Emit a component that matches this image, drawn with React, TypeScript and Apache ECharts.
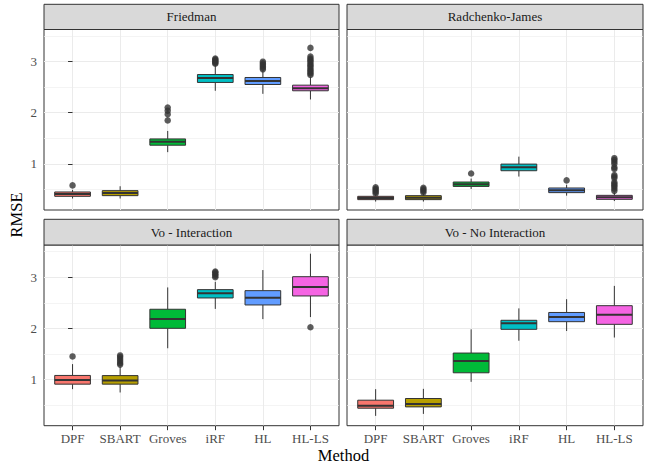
import React, { useEffect, useRef } from "react";
import * as echarts from "echarts";

const METHODS = ["DPF", "SBART", "Groves", "iRF", "HL", "HL-LS"];
const PANELS = ["Friedman", "Radchenko-James", "Vo - Interaction", "Vo - No Interaction"];
const COLORS = ["#F8766D", "#B79F00", "#00BA38", "#00BFC4", "#619CFF", "#F564E3"];
const Y_TICKS = [1, 2, 3];
const Y_MINOR = [0.5, 1.5, 2.5, 3.5];
const Y_MIN = 0.095;
const Y_MAX = 3.63;

// [lower whisker, Q1, median, Q3, upper whisker]
const friedmanStats = [
  [0.32, 0.363, 0.41, 0.448, 0.49],
  [0.32, 0.376, 0.43, 0.474, 0.56],
  [1.228, 1.364, 1.43, 1.487, 1.643],
  [2.43, 2.593, 2.68, 2.748, 2.93],
  [2.37, 2.553, 2.62, 2.69, 2.82],
  [2.26, 2.43, 2.48, 2.54, 2.7],
];
const friedmanOutliers = [
  [0.577],
  [],
  [1.85, 1.97, 2.04, 2.1],
  [2.96, 2.98, 3.0, 3.02, 3.04, 3.06],
  [2.85, 2.88, 2.91, 2.94, 2.97, 3.0],
  [2.74, 2.77, 2.8, 2.83, 2.86, 2.9, 2.93, 2.96, 3.0, 3.03, 3.06, 3.1, 3.27],
];

const radchenkoStats = [
  [0.26, 0.298, 0.33, 0.363, 0.4],
  [0.26, 0.298, 0.337, 0.376, 0.41],
  [0.507, 0.557, 0.6, 0.643, 0.71],
  [0.75, 0.864, 0.93, 0.994, 1.14],
  [0.376, 0.435, 0.48, 0.526, 0.59],
  [0.27, 0.304, 0.343, 0.382, 0.44],
];
const radchenkoOutliers = [
  [0.42, 0.45, 0.48, 0.51, 0.54],
  [0.44, 0.47, 0.5, 0.53],
  [0.81],
  [],
  [0.675],
  [0.47, 0.51, 0.55, 0.58, 0.61, 0.64, 0.72, 0.75, 0.78, 0.9, 0.93, 1.0, 1.04, 1.08, 1.11],
];

const voIntStats = [
  [0.81, 0.908, 0.99, 1.078, 1.3],
  [0.745, 0.908, 0.98, 1.075, 1.25],
  [1.61, 2.0, 2.18, 2.373, 2.8],
  [2.38, 2.594, 2.686, 2.757, 2.91],
  [2.18, 2.457, 2.6, 2.737, 3.14],
  [2.22, 2.633, 2.81, 3.01, 3.46],
];
const voIntOutliers = [
  [1.45],
  [1.29, 1.32, 1.36, 1.4, 1.44, 1.47],
  [],
  [3.0, 3.03, 3.06, 3.09, 3.11],
  [],
  [2.02],
];

const voNoIntStats = [
  [0.287, 0.437, 0.483, 0.594, 0.81],
  [0.326, 0.463, 0.52, 0.627, 0.816],
  [0.953, 1.13, 1.359, 1.516, 1.98],
  [1.757, 1.98, 2.1, 2.157, 2.39],
  [1.947, 2.13, 2.22, 2.31, 2.57],
  [1.82, 2.078, 2.267, 2.443, 2.83],
];
const voNoIntOutliers = [[], [], [], [], [], []];

const ALL_STATS = [friedmanStats, radchenkoStats, voIntStats, voNoIntStats];
const ALL_OUTLIERS = [friedmanOutliers, radchenkoOutliers, voIntOutliers, voNoIntOutliers];

export default function App() {
  const ref = useRef<HTMLDivElement>(null);

  useEffect(() => {
    const chart = echarts.init(ref.current!, null, { renderer: "svg" });
    const FONT = "Liberation Serif";
    const IDX = METHODS.map((_, i) => i);

    const grids = [
      { left: 44, top: 29.5, width: 295, height: 180.5 },
      { left: 347, top: 29.5, width: 296, height: 180.5 },
      { left: 44, top: 245, width: 295, height: 180.7 },
      { left: 347, top: 245, width: 296, height: 180.7 },
    ];
    const stripTops = [4.3, 4.3, 219.3, 219.3];

    const xAxis: any[] = [];
    const yAxis: any[] = [];
    const series: any[] = [];
    const graphic: any[] = [];

    grids.forEach((g, i) => {
      const bottom = i >= 2;
      const left = i % 2 === 0;
      xAxis.push({
        type: "value",
        gridIndex: i,
        min: -0.6,
        max: 5.6,
        axisLine: { show: false },
        axisTick: {
          show: bottom,
          customValues: IDX,
          length: 4.5,
          lineStyle: { color: "#333333", width: 1 },
        },
        axisLabel: {
          show: bottom,
          customValues: IDX,
          formatter: (v: number) => METHODS[Math.round(v)] ?? "",
          color: "#4D4D4D",
          fontFamily: FONT,
          fontSize: 13,
          margin: 6,
        },
        splitLine: { show: true, lineStyle: { color: "#EBEBEB", width: 1 } },
      });
      yAxis.push({
        type: "value",
        gridIndex: i,
        min: Y_MIN,
        max: Y_MAX,
        position: "left",
        axisLine: { show: false },
        axisTick: {
          show: left,
          customValues: Y_TICKS,
          length: 4.5,
          lineStyle: { color: "#333333", width: 1 },
        },
        axisLabel: {
          show: left,
          customValues: Y_TICKS,
          color: "#4D4D4D",
          fontFamily: FONT,
          fontSize: 13,
          margin: 7,
        },
        splitLine: { show: true, lineStyle: { color: "#EBEBEB", width: 1 } },
      });
      yAxis.push({
        type: "value",
        gridIndex: i,
        min: Y_MIN,
        max: Y_MAX,
        position: "right",
        axisLine: { show: false },
        axisTick: { show: false, customValues: Y_MINOR },
        axisLabel: { show: false, customValues: Y_MINOR },
        splitLine: { show: true, lineStyle: { color: "#EFEFEF", width: 0.7 } },
      });

      const stats = ALL_STATS[i];
      const outs = ALL_OUTLIERS[i];
      series.push({
        type: "custom",
        xAxisIndex: i,
        yAxisIndex: 2 * i,
        z: 3,
        encode: { x: 0, y: [1, 2, 3, 4, 5] },
        data: stats.map((s, k) => [k, ...s]),
        renderItem: (params: any, api: any) => {
          const k = api.value(0);
          const lo = api.coord([k, api.value(1)]);
          const q1 = api.coord([k, api.value(2)]);
          const med = api.coord([k, api.value(3)]);
          const q3 = api.coord([k, api.value(4)]);
          const hi = api.coord([k, api.value(5)]);
          const hw = api.size([0.75, 0])[0] / 2;
          const cx = lo[0];
          const stroke = "#333333";
          return {
            type: "group",
            children: [
              {
                type: "line",
                shape: { x1: cx, y1: hi[1], x2: cx, y2: q3[1] },
                style: { stroke, lineWidth: 1 },
              },
              {
                type: "line",
                shape: { x1: cx, y1: q1[1], x2: cx, y2: lo[1] },
                style: { stroke, lineWidth: 1 },
              },
              {
                type: "rect",
                shape: { x: cx - hw, y: q3[1], width: hw * 2, height: q1[1] - q3[1] },
                style: { fill: COLORS[k], stroke, lineWidth: 1 },
              },
              {
                type: "line",
                shape: { x1: cx - hw, y1: med[1], x2: cx + hw, y2: med[1] },
                style: { stroke, lineWidth: 2 },
              },
            ],
          };
        },
      });
      const pts: number[][] = [];
      outs.forEach((arr, k) => arr.forEach((v) => pts.push([k, v])));
      series.push({
        type: "scatter",
        xAxisIndex: i,
        yAxisIndex: 2 * i,
        z: 2,
        symbol: "circle",
        symbolSize: 6.5,
        itemStyle: { color: "#333333" },
        data: pts,
      });

      const st = stripTops[i];
      graphic.push({
        type: "rect",
        shape: { x: g.left, y: st, width: g.width, height: g.top - st },
        style: { fill: "#D9D9D9", stroke: "#333333", lineWidth: 1 },
        z: 10,
      });
      graphic.push({
        type: "text",
        x: g.left + g.width / 2,
        y: (st + g.top) / 2,
        z: 11,
        style: {
          text: PANELS[i],
          fontFamily: FONT,
          fontSize: 13,
          fill: "#1A1A1A",
          align: "center",
          verticalAlign: "middle",
        },
      });
    });

    graphic.push({
      type: "text",
      x: 343.5,
      y: 455,
      style: {
        text: "Method",
        fontFamily: FONT,
        fontSize: 16.5,
        fill: "#000000",
        align: "center",
        verticalAlign: "middle",
      },
    });
    graphic.push({
      type: "text",
      x: 16,
      y: 215,
      rotation: Math.PI / 2,
      style: {
        text: "RMSE",
        fontFamily: FONT,
        fontSize: 16.5,
        fill: "#000000",
        align: "center",
        verticalAlign: "middle",
      },
    });

    chart.setOption({
      animation: false,
      backgroundColor: "#FFFFFF",
      grid: grids.map((g) => ({
        ...g,
        show: true,
        borderColor: "#333333",
        borderWidth: 1,
        backgroundColor: "#FFFFFF",
        containLabel: false,
      })),
      xAxis,
      yAxis,
      series,
      graphic,
    });

    return () => chart.dispose();
  }, []);

  return (
    <div
      ref={ref}
      style={{ position: "fixed", left: 0, top: 0, width: 645, height: 465 }}
    />
  );
}
